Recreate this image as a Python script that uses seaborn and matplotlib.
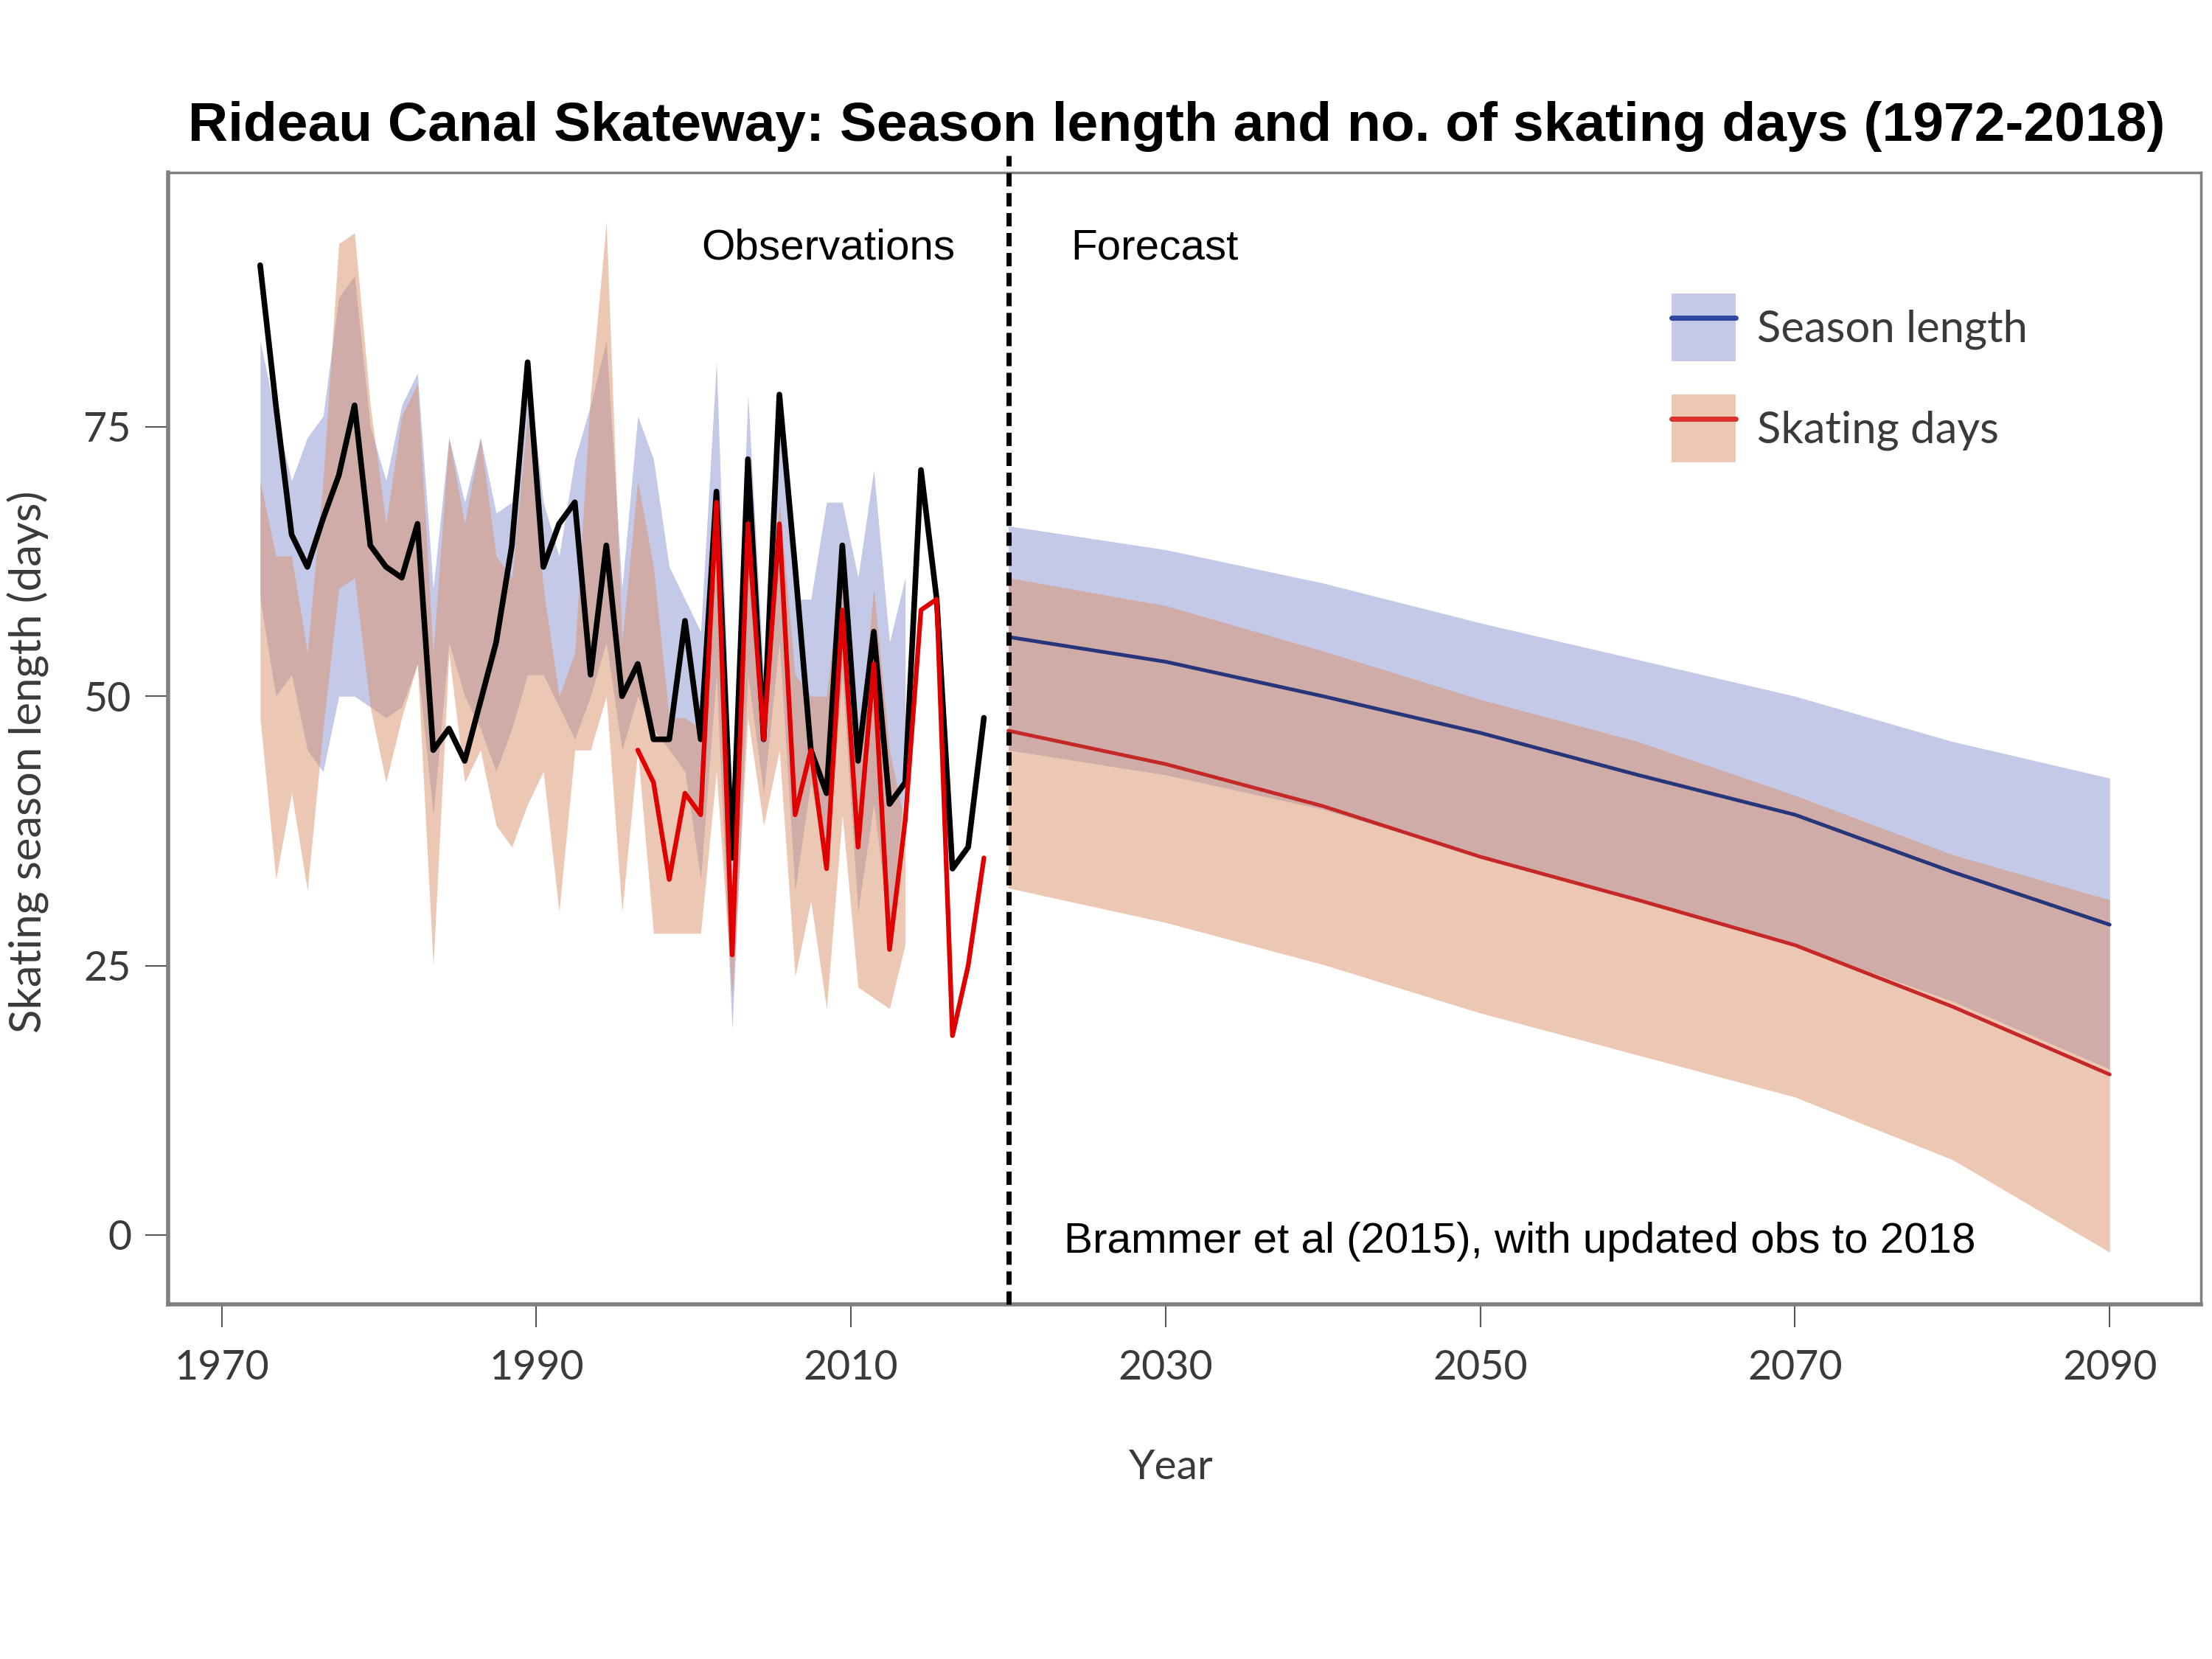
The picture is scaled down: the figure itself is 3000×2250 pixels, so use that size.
import numpy as np
import pandas as pd
import seaborn as sns
import matplotlib.pyplot as plt
from matplotlib.patches import Patch
from matplotlib.lines import Line2D

# ---- observations ----
obs_years = list(range(1972, 2019))
season_obs = [90, 77, 65, 62, 66.5, 70.5, 77, 64, 62, 61, 66, 45, 47, 44, 49.5, 55, 64,
              81, 62, 66, 68, 52, 64, 50, 53, 46, 46, 57, 46, 69, 35, 72, 46, 78, 62,
              45, 41, 64, 44, 56, 40, 42, 71, 59, 34, 36, 48]
skate_years = list(range(1996, 2019))
skate_obs = [45, 42, 33, 41, 39, 68, 26, 66, 46, 66, 39, 45, 34, 58, 36, 53, 26.5,
             38.5, 58, 59, 18.5, 25, 35]

# ---- envelopes behind the observations ----
band_years = list(range(1972, 2014))
season_band_hi = [83, 76, 70, 74, 76, 87, 89, 75, 70, 77, 80, 60, 74, 68, 74, 67, 68,
                  81, 68, 63, 72, 77, 83, 60, 76, 72, 62, 59, 56, 81, 39, 78, 52, 78,
                  59, 59, 68, 68, 61, 71, 55, 61]
season_band_lo = [59, 50, 52, 45, 43, 50, 50, 49, 48, 49, 53, 39, 55, 50, 47, 43, 47,
                  52, 52, 49, 46, 50, 55, 45, 50, 47, 45, 43, 33, 52, 19, 52, 41, 55,
                  32, 42, 34, 52, 30, 40, 28, 42]
skate_band_hi = [70, 63, 63, 54, 70, 92, 93, 77, 66, 76, 79, 54, 74, 66, 74, 63, 61,
                 76, 60, 50, 54, 78, 94, 55, 70, 62, 48, 48, 47, 69, 32, 71, 47, 68,
                 52, 50, 50, 63, 45, 60, 45, 38]
skate_band_lo = [48, 33, 41, 32, 47, 60, 61, 49, 42, 48, 53, 25, 54, 42, 45, 38, 36,
                 40, 43, 30, 45, 45, 50, 30, 45, 28, 28, 28, 28, 43, 22, 48, 38, 45,
                 24, 31, 21, 39, 23, 22, 21, 27]

# ---- forecast ----
fc_years = [2020, 2030, 2040, 2050, 2060, 2070, 2080, 2090]
season_fc = [55.5, 53.2, 50.0, 46.6, 42.7, 39.0, 33.7, 28.8]
season_fc_hi = [65.8, 63.6, 60.5, 56.8, 53.4, 50.0, 45.8, 42.4]
season_fc_lo = [45.0, 42.7, 39.5, 35.1, 31.1, 26.9, 21.7, 15.4]
skate_fc = [46.8, 43.7, 39.8, 35.1, 31.1, 26.9, 21.2, 14.9]
skate_fc_hi = [61.0, 58.4, 54.2, 49.7, 45.8, 40.8, 35.3, 31.1]
skate_fc_lo = [32.2, 29.0, 25.1, 20.6, 16.7, 12.8, 7.0, -1.6]

x_ticks = [1970, 1990, 2010, 2030, 2050, 2070, 2090]
y_ticks = [0, 25, 50, 75]

blue_fill = "#c4c9e7"
orange_fill = "#db9169"
grey = "#7f7f7f"
label_col = "#3a3a3a"

# winter seasons sit roughly mid-way through the labelled year on the original
season_shift = 0.45
obs_x = np.array(obs_years) + season_shift
skate_x = np.array(skate_years) + season_shift
band_x = np.array(band_years) + season_shift

sns.set_theme(style="white")
plt.rcParams["font.family"] = ["Lato", "DejaVu Sans"]

fig = plt.figure(figsize=(30, 22.5), dpi=100)
ax = fig.add_axes([0.076, 0.214, 0.919, 0.682])

# bands
ax.fill_between(band_x, season_band_lo, season_band_hi, color=blue_fill, lw=0, zorder=1)
ax.fill_between(band_x, skate_band_lo, skate_band_hi, color=orange_fill, alpha=0.5, lw=0, zorder=2)
ax.fill_between(fc_years, season_fc_lo, season_fc_hi, color=blue_fill, lw=0, zorder=1)
ax.fill_between(fc_years, skate_fc_lo, skate_fc_hi, color=orange_fill, alpha=0.5, lw=0, zorder=2)

# lines
sns.lineplot(x=obs_x, y=season_obs, estimator=None, color="black", lw=5.5, ax=ax, zorder=4)
sns.lineplot(x=skate_x, y=skate_obs, estimator=None, color="#e00000", lw=4.6, ax=ax, zorder=5)
sns.lineplot(x=fc_years, y=season_fc, estimator=None, color="#27367a", lw=3.6, ax=ax, zorder=4)
sns.lineplot(x=fc_years, y=skate_fc, estimator=None, color="#c62828", lw=3.6, ax=ax, zorder=4)

ax.axvline(2020, ymin=0, ymax=1.015, color="black", lw=5, linestyle=(0, (2.6, 1.3)),
           zorder=6, clip_on=False)

ax.set_xlim(1966.6, 2095.8)
ax.set_ylim(-6.4, 98.6)
ax.set_xticks(x_ticks)
ax.set_yticks(y_ticks)
ax.set_xlabel("")
ax.set_ylabel("")
ax.tick_params(axis="both", which="both", direction="out", length=22, width=1.5,
               color="#555555", labelsize=40, labelcolor=label_col)
ax.tick_params(axis="x", pad=22, bottom=True)
ax.tick_params(axis="y", pad=14, left=True)
for s in ax.spines.values():
    s.set_color(grey)
    s.set_linewidth(2.5)
ax.spines["bottom"].set_linewidth(4)
ax.spines["left"].set_linewidth(4)

# texts
txt_font = ["Liberation Sans", "DejaVu Sans"]
ax.text(2008.55, 91.6, "Observations", ha="center", va="center", fontsize=42,
        color="black", family=txt_font)
ax.text(2029.3, 91.6, "Forecast", ha="center", va="center", fontsize=42,
        color="black", family=txt_font)
ax.text(2023.55, -0.6, "Brammer et al (2015), with updated obs to 2018", ha="left",
        va="center", fontsize=42, color="black", family=txt_font)

fig.text(0.532, 1 - 172 / 2250, "Rideau Canal Skateway: Season length and no. of skating days (1972-2018)",
         ha="center", va="center", fontsize=54, fontweight="bold", color="black", family=txt_font)
fig.text(38 / 3000, 1 - 1033 / 2250, "Skating season length (days)", rotation=90,
         ha="center", va="center", fontsize=43, color=label_col)
fig.text(1588 / 3000, 1 - 1990 / 2250, "Year", ha="center", va="center", fontsize=41, color=label_col)

# legend
h_season = (Patch(facecolor=blue_fill, edgecolor="none"), Line2D([], [], color="#2e47a0", lw=5))
h_skate = (Patch(facecolor="#edc8b4", edgecolor="none"), Line2D([], [], color="#d9322b", lw=5))
ax.legend([h_season, h_skate], ["Season length", "Skating days"], loc="upper left",
          bbox_to_anchor=(2267 / 3000, 1 - 398 / 2250), bbox_transform=fig.transFigure,
          frameon=False, borderpad=0, borderaxespad=0, fontsize=43, handlelength=1.45,
          handleheight=2.0, handletextpad=0.5, labelspacing=0.75, labelcolor=label_col)

fig.savefig("out.png", dpi=100, facecolor="white")
